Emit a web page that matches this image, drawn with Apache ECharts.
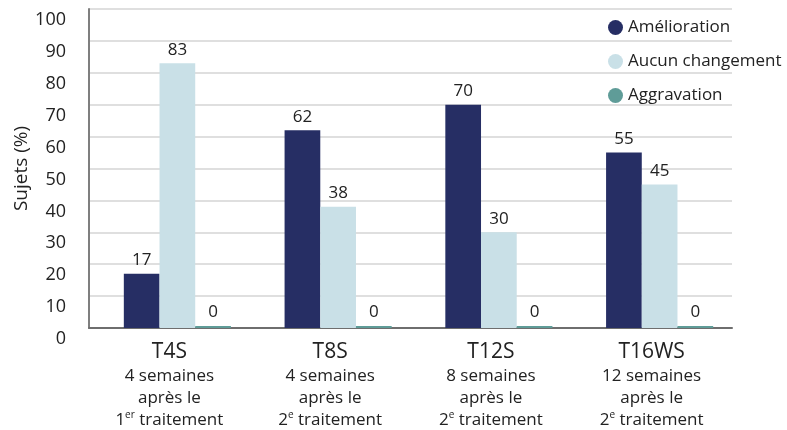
<!DOCTYPE html>
<html>
<head>
<meta charset="utf-8">
<script src="https://cdn.jsdelivr.net/npm/echarts@6/dist/echarts.min.js"></script>
<style>
  html, body { margin: 0; padding: 0; background: #fff; }
  #chart { width: 787px; height: 430px; }
</style>
</head>
<body>
<div id="chart"></div>
<script>
const categoryCodes = ['T4S', 'T8S', 'T12S', 'T16WS'];
const categoryDelay = ['4 semaines', '4 semaines', '8 semaines', '12 semaines'];
const categoryRank = ['1', '2', '2', '2'];
const categoryRankSup = ['er', 'e', 'e', 'e'];

const amelioration = [17, 62, 70, 55];
const aucunChangement = [83, 38, 30, 45];
const aggravation = [0, 0, 0, 0];

const yTicks = [0, 10, 20, 30, 40, 50, 60, 70, 80, 90, 100];

const font = '"Open Sans", sans-serif';
const chart = echarts.init(document.getElementById('chart'));

const valueLabel = {
  show: true,
  position: 'top',
  distance: 5,
  color: '#222',
  fontSize: 17,
  fontFamily: font,
};

chart.setOption({
  backgroundColor: '#fff',
  animation: false,
  textStyle: { fontFamily: font },
  legend: {
    data: ['Amélioration', 'Aucun changement', 'Aggravation'],
    orient: 'vertical',
    left: 603,
    top: 14,
    icon: 'circle',
    itemWidth: 15,
    itemHeight: 15,
    itemGap: 17,
    textStyle: { color: '#222', fontSize: 17, fontFamily: font },
  },
  grid: {
    left: 89,
    right: 55,
    top: 9,
    bottom: 102,
    containLabel: false,
    outerBoundsMode: 'none',
  },
  xAxis: {
    type: 'category',
    data: categoryCodes,
    axisTick: { show: false },
    axisLine: { lineStyle: { color: '#6e6e6e', width: 2 } },
    axisLabel: {
      margin: 12,
      interval: 0,
      formatter: (value, idx) =>
        `{code|${value}}\n{sub|${categoryDelay[idx]}}\n{sub|après le}\n` +
        `{sub|${categoryRank[idx]}}{sup|${categoryRankSup[idx]}}{sub| traitement}`,
      rich: {
        code: { fontSize: 21, lineHeight: 25, color: '#222', fontFamily: font },
        sub: { fontSize: 17, lineHeight: 22, color: '#222', fontFamily: font },
        sup: { fontSize: 10, lineHeight: 22, color: '#222', fontFamily: font, padding: [0, 0, 9, 0] },
      },
    },
  },
  yAxis: {
    type: 'value',
    min: yTicks[0],
    max: yTicks[yTicks.length - 1],
    interval: 10,
    name: 'Sujets (%)',
    nameLocation: 'middle',
    nameGap: 58,
    nameMoveOverlap: false,
    nameTextStyle: { fontSize: 19, color: '#222', fontFamily: font },
    axisLine: { show: true, lineStyle: { color: '#7f7f7f', width: 2 } },
    axisTick: { show: false },
    axisLabel: {
      margin: 23,
      fontSize: 18,
      color: '#222',
      verticalAlign: 'top',
      lineHeight: 18,
      padding: [2, 0, 0, 0],
    },
    splitLine: { lineStyle: { color: '#d4d4d4', width: 1.5 } },
  },
  series: [
    {
      // spacer slot: pushes each group of bars right, as in the source figure
      name: 'spacer',
      type: 'bar',
      barWidth: 16,
      barGap: '0%',
      data: [],
      silent: true,
    },
    {
      name: 'Amélioration',
      type: 'bar',
      barWidth: 35.7,
      barGap: '0%',
      itemStyle: { color: '#262e64' },
      label: valueLabel,
      data: amelioration,
    },
    {
      name: 'Aucun changement',
      type: 'bar',
      barWidth: 35.7,
      barGap: '0%',
      itemStyle: { color: '#c9e0e7' },
      label: valueLabel,
      data: aucunChangement,
    },
    {
      name: 'Aggravation',
      type: 'bar',
      barWidth: 35.7,
      barGap: '0%',
      barMinHeight: 2,
      itemStyle: { color: '#5f9c98' },
      label: valueLabel,
      data: aggravation,
    },
  ],
});
</script>
</body>
</html>
